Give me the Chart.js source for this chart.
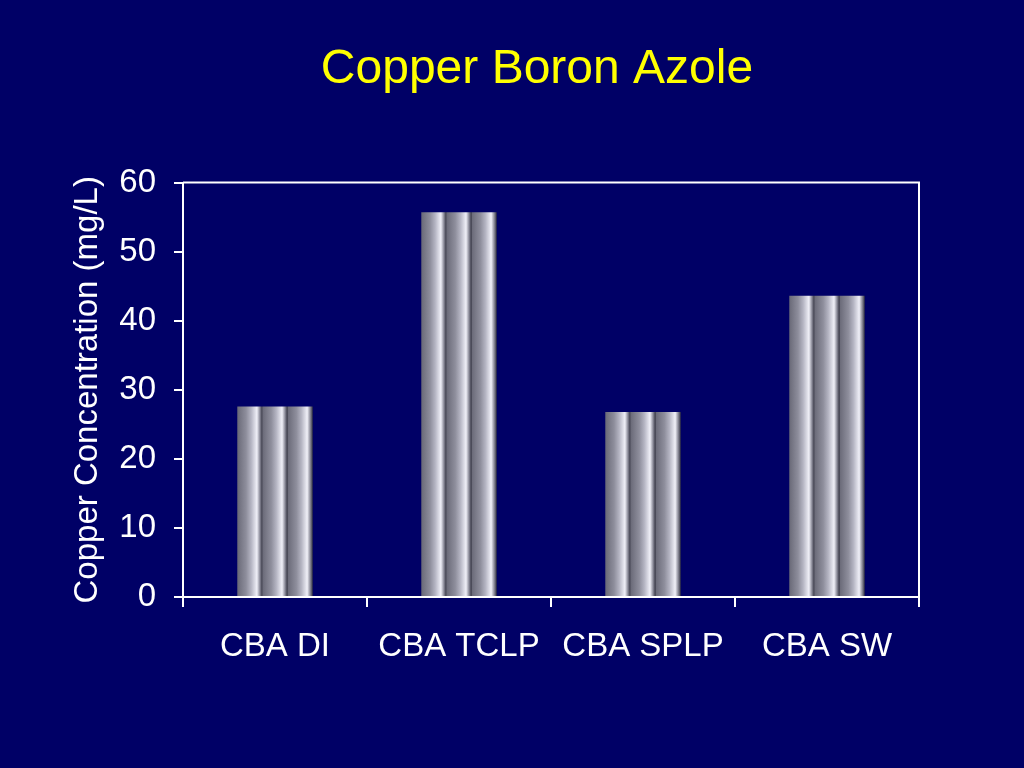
<!DOCTYPE html>
<html>
<head>
<meta charset="utf-8">
<script src="https://cdn.jsdelivr.net/npm/chart.js@4"></script>
<style>
  html, body { margin: 0; padding: 0; background: #000066; overflow: hidden; }
  canvas { display: block; }
</style>
</head>
<body>
<canvas id="chart" width="1024" height="768"></canvas>
<script>
var categories = ["CBA DI", "CBA TCLP", "CBA SPLP", "CBA SW"];
var copperValues = [27.6, 55.7, 26.8, 43.6];
var yTicks = [0, 10, 20, 30, 40, 50, 60];

var FONT = "'Liberation Sans', Arial, sans-serif";
var BAR_PCT = 0.41;

// striped grey fill, three bands per bar
function barFill(ctx) {
	var ch = ctx.chart, xs = ch.scales.x;
	if (!ch.chartArea || !xs) return "#888899";
	var w = xs.width / categories.length * BAR_PCT;
	var left = xs.getPixelForValue(ctx.dataIndex) - w / 2;
	var g = ch.ctx.createLinearGradient(left, 0, left + w, 0);
	for (var k = 0; k < 3; k++) {
		var s = k / 3, u = 1 / 3;
		g.addColorStop(s + u * 0.01, "#6a6a78");
		g.addColorStop(s + u * 0.35, "#8e8e9c");
		g.addColorStop(s + u * 0.55, "#b4b4c2");
		g.addColorStop(s + u * 0.78, "#f0f0f8");
		g.addColorStop(s + u * 0.9, "#8a8a98");
		g.addColorStop(s + u * 0.99, "#3a3a48");
	}
	return g;
}

// white frame on top and right of the plot area
var frame = {
	id: "frame",
	afterDraw: function (chart) {
		var a = chart.chartArea, c = chart.ctx;
		c.save();
		c.strokeStyle = "#ffffff";
		c.lineWidth = 2;
		c.beginPath();
		c.moveTo(a.left, a.top);
		c.lineTo(a.right, a.top);
		c.lineTo(a.right, a.bottom);
		c.stroke();
		c.restore();
	}
};

new Chart(document.getElementById("chart"), {
	type: "bar",
	data: {
		labels: categories,
		datasets: [{
			label: "Copper",
			data: copperValues,
			backgroundColor: barFill,
			borderWidth: 0,
			barPercentage: BAR_PCT,
			categoryPercentage: 1.0
		}]
	},
	options: {
		responsive: false,
		animation: false,
		layout: { padding: { left: 50, right: 0, top: 0, bottom: 0 } },
		plugins: {
			legend: { display: false },
			tooltip: { enabled: false },
			title: {
				display: true,
				text: "Copper Boron Azole",
				color: "#ffff00",
				font: { family: FONT, size: 48, weight: "normal" },
				padding: { top: 41, bottom: 84 }
			}
		},
		scales: {
			x: {
				grid: {
					display: true,
					offset: true,
					drawOnChartArea: false,
					drawTicks: true,
					tickLength: 10,
					color: "#ffffff",
					lineWidth: 2
				},
				border: { display: true, color: "#ffffff", width: 2 },
				ticks: {
					color: "#ffffff",
					font: { family: FONT, size: 33 },
					padding: 20,
					maxRotation: 0
				},
				afterFit: function (s) { s.height = 171; }
			},
			y: {
				min: 0,
				max: 60,
				afterBuildTicks: function (s) {
					s.ticks = yTicks.map(function (v) { return { value: v }; });
				},
				grid: {
					display: true,
					drawOnChartArea: false,
					drawTicks: true,
					tickLength: 9,
					color: "#ffffff",
					lineWidth: 2
				},
				border: { display: true, color: "#ffffff", width: 2 },
				ticks: {
					color: "#ffffff",
					font: { family: FONT, size: 33 },
					padding: 18
				},
				title: {
					display: true,
					text: "Copper Concentration (mg/L)",
					color: "#ffffff",
					font: { family: FONT, size: 33 },
					padding: { top: 18, bottom: 0 }
				},
				afterFit: function (s) { s.width = 133; }
			},
			yRight: {
				position: "right",
				display: true,
				grid: { display: false },
				border: { display: false },
				ticks: { display: false },
				afterFit: function (s) { s.width = 105; }
			}
		}
	},
	plugins: [frame]
});
</script>
</body>
</html>
